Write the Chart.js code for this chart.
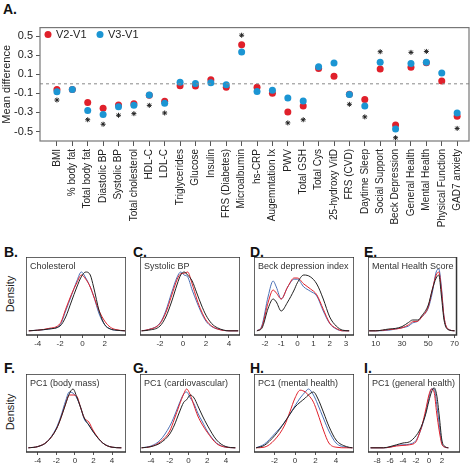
<!DOCTYPE html>
<html>
<head>
<meta charset="utf-8">
<script src="https://cdn.jsdelivr.net/npm/chart.js@4/dist/chart.umd.min.js"></script>
<style>
  body { margin: 0; background: #fff; font-family: Arial, "Liberation Sans", sans-serif; }
  #wrap { position: relative; width: 474px; height: 468px; }
  canvas { position: absolute; }
  .lab { position: absolute; font-weight: bold; font-size: 14px; color: #111; }
  .dens { position: absolute; font-size: 11px; color: #222; transform: rotate(-90deg); transform-origin: center; }
</style>
</head>
<body>
<div id="wrap">
  <div class="lab" style="left:3px;top:1px">A.</div>
  <canvas id="cA" style="left:0;top:18px" width="474" height="215"></canvas>
  <div class="lab" style="left:4px;top:244px">B.</div>
  <div class="lab" style="left:133px;top:244px">C.</div>
  <div class="lab" style="left:250px;top:244px">D.</div>
  <div class="lab" style="left:364px;top:244px">E.</div>
  <div class="lab" style="left:4px;top:360px">F.</div>
  <div class="lab" style="left:133px;top:360px">G.</div>
  <div class="lab" style="left:250px;top:360px">H.</div>
  <div class="lab" style="left:364px;top:360px">I.</div>
  <div class="dens" style="left:-8px;top:288px">Density</div>
  <div class="dens" style="left:-8px;top:406px">Density</div>
</div>
<script>
const categories = ["BMI", "% body fat", "Total body fat", "Diastolic BP", "Systolic BP", "Total cholesterol",
  "HDL-C", "LDL-C", "Triglycerides", "Glucose", "Insulin", "FRS (Diabetes)", "Microalbumin", "hs-CRP",
  "Augemntation Ix", "PWV", "Total GSH", "Total Cys", "25-hydroxy VitD", "FRS (CVD)", "Daytime Sleep",
  "Social Support", "Beck Depression", "General Health", "Mental Health", "Physical Function", "GAD7 anxiety"];
const v2v1 = [-0.06, -0.06, -0.195, -0.256, -0.222, -0.209, -0.12, -0.182, -0.02, -0.024, 0.044, -0.037, 0.41,
  -0.037, -0.098, -0.296, -0.232, 0.16, 0.08, -0.11, -0.165, 0.155, -0.431, 0.175, 0.22, 0.03, -0.34];
const v3v1 = [-0.084, -0.06, -0.28, -0.323, -0.24, -0.226, -0.118, -0.205, 0.017, 0.003, 0.01, -0.01, 0.333,
  -0.08, -0.067, -0.148, -0.18, 0.178, 0.218, -0.111, -0.232, 0.226, -0.475, 0.212, 0.226, 0.114, -0.306];
const stars = [-0.17, null, -0.377, -0.424, -0.33, -0.313, -0.226, -0.306, null, null, null, null, 0.51,
  null, null, -0.41, -0.377, null, null, -0.215, -0.347, 0.337, -0.566, 0.33, 0.34, null, -0.468];
const meanTicks = [0.5, 0.3, 0.1, -0.1, -0.3, -0.5];

const RED = "#e0202b", BLUE = "#1b95d3", BLACK = "#222";

const pts = arr => arr.map((v, i) => v === null ? null : {x: i, y: v}).filter(p => p);

const boxPlugin = {
  id: "box",
  afterDraw(chart, args, opts) {
    const {ctx, chartArea: a} = chart;
    ctx.save();
    if (opts.zero) {
      const y = chart.scales.y.getPixelForValue(0);
      ctx.strokeStyle = "#888"; ctx.lineWidth = 1; ctx.setLineDash([3, 3]);
      ctx.beginPath(); ctx.moveTo(a.left, y); ctx.lineTo(a.right, y); ctx.stroke();
      ctx.setLineDash([]);
    }
    ctx.strokeStyle = opts.color || "#333"; ctx.lineWidth = opts.width || 1.5;
    ctx.strokeRect(a.left, a.top, a.right - a.left, a.bottom - a.top);
    if (opts.title) {
      ctx.fillStyle = "#333"; ctx.font = "9px Arial, 'Liberation Sans'";
      ctx.textBaseline = "top";
      ctx.fillText(opts.title, a.left + 4, a.top + 5);
    }
    if (opts.legend) {
      ctx.font = "11px Arial, 'Liberation Sans'"; ctx.textBaseline = "middle";
      opts.legend.forEach(l => {
        ctx.fillStyle = l.color; ctx.beginPath(); ctx.arc(a.left + l.x, a.top + 7, 3.5, 0, Math.PI * 2); ctx.fill();
        ctx.fillStyle = "#222"; ctx.fillText(l.text, a.left + l.x + 8, a.top + 7);
      });
    }
    ctx.restore();
  }
};

// first dataset is painted on top, so blue comes first
new Chart(document.getElementById("cA"), {
  type: "scatter",
  data: {
    datasets: [
      {data: pts(v3v1), backgroundColor: BLUE, borderWidth: 0, pointRadius: 3.5},
      {data: pts(v2v1), backgroundColor: RED, borderWidth: 0, pointRadius: 3.5},
      {data: pts(stars), pointStyle: "star", borderColor: BLACK, borderWidth: 1, pointRadius: 2.5}
    ]
  },
  options: {
    responsive: false, animation: false,
    layout: {padding: {top: 5, right: 2}},
    plugins: {legend: {display: false}, tooltip: {enabled: false},
      box: {zero: true, color: "#777", width: 1.2,
        legend: [{color: RED, text: "V2-V1", x: 8}, {color: BLUE, text: "V3-V1", x: 60}]}},
    scales: {
      x: {type: "linear", min: -1.1, max: 26.77,
        afterBuildTicks: s => { s.ticks = categories.map((c, i) => ({value: i})); },
        afterFit: s => { s.height = 92; },
        grid: {drawOnChartArea: false, tickLength: 5, color: "#555"}, border: {display: false},
        ticks: {autoSkip: false, minRotation: 90, maxRotation: 90, font: {size: 10}, color: "#222",
          callback: v => categories[v]}},
      y: {min: -0.6, max: 0.59,
        afterBuildTicks: s => { s.ticks = meanTicks.map(v => ({value: v})); },
        afterFit: s => { s.width = 40; },
        title: {display: true, text: "Mean difference", font: {size: 11}, color: "#222", padding: 0},
        grid: {drawOnChartArea: false, tickLength: 4, color: "#555"}, border: {display: false},
        ticks: {font: {size: 11}, color: "#222", callback: v => v}}
    }
  },
  plugins: [boxPlugin]
});

// density panels: x grid and three curves (red, blue, black)
const cholX = [-4.8, -4, -3, -2, -1.5, -1, -0.5, -0.1, 0.3, 0.7, 1, 1.5, 2, 2.5, 3, 3.8];
const cholRed = [.02, .03, .06, .14, .38, .62, .82, .95, .88, .75, .6, .35, .18, .08, .04, .02];
const cholBlue = [.02, .03, .05, .12, .35, .6, .85, 1.0, .9, .75, .6, .3, .12, .05, .03, .02];
const cholBlack = [.02, .03, .05, .1, .25, .5, .75, .92, 1.0, .95, .75, .35, .12, .05, .03, .02];

const sbpX = [-3.6, -3, -2, -1.5, -1, -0.5, -0.2, 0.1, 0.4, 0.8, 1.2, 1.6, 2, 2.5, 3, 4, 4.8];
const sbpRed = [.02, .04, .14, .32, .6, .88, .97, .98, 1.0, .8, .55, .35, .2, .1, .05, .02, .02];
const sbpBlue = [.02, .04, .15, .35, .65, .92, 1.0, .95, .92, .7, .5, .32, .18, .09, .05, .02, .02];
const sbpBlack = [.02, .03, .1, .25, .5, .8, .95, 1.0, .95, .85, .65, .45, .28, .14, .07, .02, .02];

const beckX = [-2.5, -2.2, -1.8, -1.5, -1.3, -1, -0.6, -0.2, 0, 0.4, 0.8, 1.2, 1.6, 2, 2.4, 2.8, 3.2];
const beckRed = [.02, .08, .5, .7, .65, .55, .75, .9, .9, .8, .72, .62, .38, .15, .06, .02, .02];
const beckBlue = [.02, .1, .6, .85, .75, .55, .75, .88, .88, .75, .68, .6, .35, .14, .05, .02, .02];
const beckBlack = [.02, .06, .4, .55, .5, .35, .5, .7, .82, .95, .92, .8, .55, .25, .1, .03, .02];

const mhX = [5, 10, 20, 25, 30, 35, 38, 42, 45, 50, 53, 56, 58, 60, 62, 65, 70];
const mhRed = [.02, .02, .04, .05, .07, .12, .17, .18, .25, .42, .7, .95, 1.0, .7, .25, .05, .02];
const mhBlue = [.02, .02, .03, .05, .07, .1, .15, .18, .25, .4, .65, 1.0, 1.05, .75, .25, .05, .02];
const mhBlack = [.02, .02, .05, .06, .09, .16, .2, .2, .27, .45, .7, .9, .95, .6, .2, .04, .02];

const bodyX = [-5, -4, -3, -2, -1.5, -1, -0.6, -0.2, 0.2, 0.6, 1, 1.5, 2, 3, 4, 5];
const bodyRed = [.02, .04, .12, .33, .52, .75, .9, .9, .88, .7, .52, .45, .3, .1, .03, .02];
const bodyBlue = [.02, .04, .12, .35, .55, .8, .95, .93, .85, .7, .5, .4, .28, .1, .03, .02];
const bodyBlack = [.02, .04, .12, .33, .52, .75, .92, 1.0, .87, .7, .52, .4, .28, .1, .03, .02];

const cardX = [-5, -4, -3, -2, -1.5, -1, -0.5, -0.2, 0.2, 0.6, 1, 1.5, 2, 3, 4, 5];
const cardRed = [.02, .04, .12, .3, .5, .72, .92, 1.0, .9, .72, .55, .4, .28, .09, .03, .02];
const cardBlue = [.02, .05, .15, .38, .55, .75, .92, .95, .85, .75, .6, .45, .3, .1, .03, .02];
const cardBlack = [.02, .04, .1, .25, .4, .6, .78, .82, .9, .85, .72, .55, .4, .15, .04, .02];

const mentX = [-3.8, -3, -2, -1, -0.5, 0, 0.5, 1, 1.3, 1.8, 2.2, 2.8, 3.3, 4, 5, 5.6];
const mentRed = [.02, .03, .15, .4, .62, .85, .98, .95, .9, .78, .6, .3, .1, .03, .02, .02];
const mentBlue = [.02, .08, .25, .45, .58, .72, .85, .95, 1.0, .9, .75, .5, .3, .1, .03, .02];
const mentBlack = [.02, .06, .22, .45, .58, .7, .78, .85, .9, .95, .85, .6, .38, .15, .04, .02];

const genX = [-9, -7, -6, -5, -4, -3, -2, -1.5, -1, -0.5, 0, 0.4, 0.8, 1.2, 1.6, 2, 2.5, 3];
const genRed = [.02, .02, .03, .05, .06, .07, .12, .25, .42, .65, .9, 1.0, .95, .6, .3, .08, .03, .02];
const genBlue = [.02, .02, .03, .06, .07, .08, .14, .25, .4, .6, .85, 1.0, 1.0, .75, .4, .1, .03, .02];
const genBlack = [.02, .02, .04, .07, .1, .12, .22, .3, .42, .58, .8, .95, 1.02, .9, .55, .15, .04, .02];

const panels = [
  {title: "Cholesterol", x: cholX, r: cholRed, b: cholBlue, k: cholBlack, min: -5.05, max: 3.9, ticks: [-4, -2, 0, 2], left: 26, top: 257, w: 100},
  {title: "Systolic BP", x: sbpX, r: sbpRed, b: sbpBlue, k: sbpBlack, min: -3.74, max: 4.96, ticks: [-2, 0, 2, 4], left: 140, top: 257, w: 100},
  {title: "Beck depression index", x: beckX, r: beckRed, b: beckBlue, k: beckBlack, min: -2.68, max: 3.5, ticks: [-2, -1, 0, 1, 2, 3], left: 254, top: 257, w: 100},
  {title: "Mental Health Score", x: mhX, r: mhRed, b: mhBlue, k: mhBlack, min: 4.1, max: 71.5, ticks: [10, 30, 50, 70], left: 368, top: 257, w: 92},
  {title: "PC1 (body mass)", x: bodyX, r: bodyRed, b: bodyBlue, k: bodyBlack, min: -5.26, max: 5.5, ticks: [-4, -2, 0, 2, 4], left: 26, top: 374, w: 100},
  {title: "PC1 (cardiovascular)", x: cardX, r: cardRed, b: cardBlue, k: cardBlack, min: -5.17, max: 5.5, ticks: [-4, -2, 0, 2, 4], left: 140, top: 374, w: 100},
  {title: "PC1 (mental health)", x: mentX, r: mentRed, b: mentBlue, k: mentBlack, min: -4, max: 5.75, ticks: [-2, 0, 2, 4], left: 254, top: 374, w: 100},
  {title: "PC1 (general health)", x: genX, r: genRed, b: genBlue, k: genBlack, min: -9.4, max: 4.8, ticks: [-8, -6, -4, -2, 0, 2], left: 368, top: 374, w: 92}
];

const wrap = document.getElementById("wrap");
panels.forEach(p => {
  const cv = document.createElement("canvas");
  cv.width = p.w; cv.height = 94;
  cv.style.left = p.left + "px"; cv.style.top = p.top + "px";
  wrap.appendChild(cv);
  const line = (ys, color) => ({data: ys.map((y, i) => ({x: p.x[i], y})), borderColor: color,
    borderWidth: 1, pointRadius: 0, tension: 0.4, cubicInterpolationMode: "monotone", fill: false});
  new Chart(cv, {
    type: "line",
    data: {datasets: [line(p.k, BLACK), line(p.r, RED), line(p.b, "#4a6fb5")]},
    options: {
      responsive: false, animation: false, layout: {padding: 0},
      plugins: {legend: {display: false}, tooltip: {enabled: false}, box: {title: p.title, color: "#333", width: 1.5}},
      scales: {
        x: {type: "linear", min: p.min, max: p.max,
          afterBuildTicks: s => { s.ticks = p.ticks.map(v => ({value: v})); },
          afterFit: s => { s.height = 16; },
          grid: {drawOnChartArea: false, tickLength: 3, color: "#555"}, border: {display: false},
          ticks: {font: {size: 8}, color: "#333", maxRotation: 0, padding: 1}},
        y: {display: false, min: -0.05, max: 1.25}
      }
    },
    plugins: [boxPlugin]
  });
});
</script>
</body>
</html>
